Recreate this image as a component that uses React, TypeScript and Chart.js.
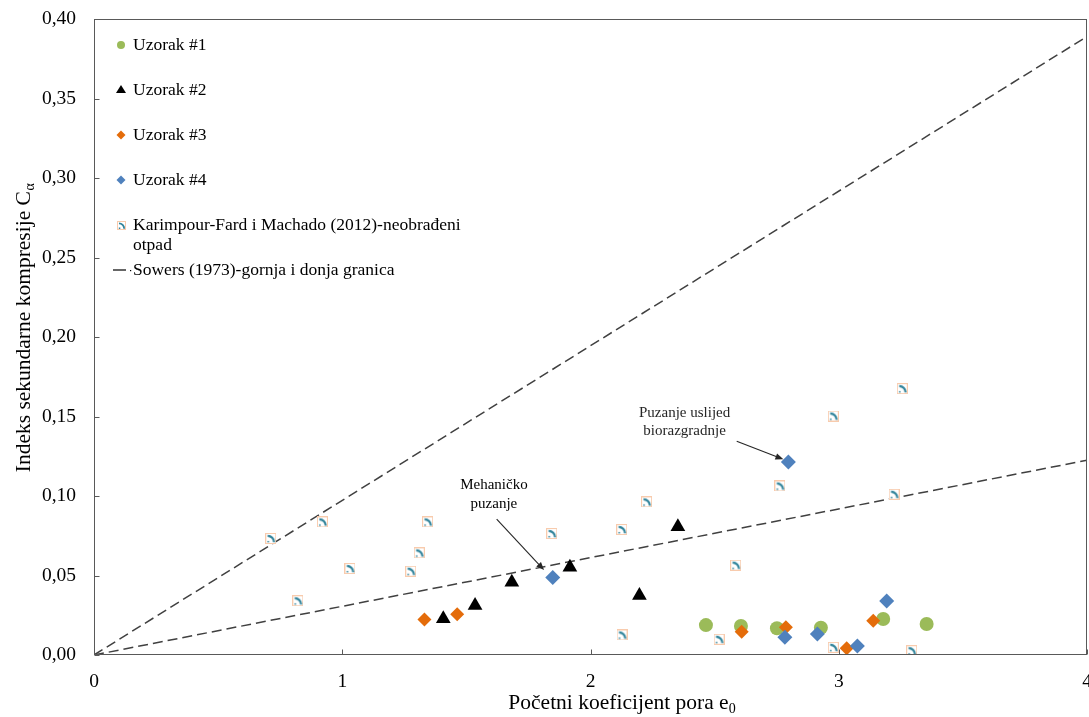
import React, { useEffect, useRef } from "react";
import { Chart, registerables } from "chart.js";
Chart.register(...registerables);

const FONT = "'Liberation Serif', 'Times New Roman', Times, serif";

// ---- data ----
const xTickValues = [0, 1, 2, 3, 4];
const yTickValues = [0, 0.05, 0.1, 0.15, 0.2, 0.25, 0.3, 0.35, 0.4];

const uzorak1X = [2.465, 2.606, 2.751, 2.928, 3.179, 3.354];
const uzorak1Y = [0.0188, 0.0182, 0.0168, 0.0171, 0.0226, 0.0195];

const uzorak2X = [1.407, 1.535, 1.683, 1.917, 2.197, 2.352];
const uzorak2Y = [0.0228, 0.0312, 0.0457, 0.0552, 0.0374, 0.0807];

const uzorak3X = [1.331, 1.463, 2.609, 2.787, 3.032, 3.139];
const uzorak3Y = [0.0224, 0.0257, 0.0146, 0.0174, 0.0042, 0.0215];

const uzorak4X = [1.848, 2.797, 3.193, 2.783, 2.914, 3.075];
const uzorak4Y = [0.0488, 0.1214, 0.0339, 0.0111, 0.0132, 0.0057];

const karimpourX = [0.712, 0.821, 0.92, 1.031, 1.276, 1.31, 1.344, 1.844, 2.126, 2.127, 2.226, 2.518, 2.585, 2.763, 2.978, 2.978, 3.223, 3.256, 3.294];
const karimpourY = [0.0733, 0.0341, 0.0837, 0.0544, 0.0527, 0.0642, 0.0837, 0.0764, 0.0789, 0.0126, 0.0963, 0.0099, 0.0565, 0.1063, 0.1503, 0.0048, 0.1011, 0.1675, 0.0027];

const sowersUpperX = [0, 4];
const sowersUpperY = [0, 0.389];
const sowersLowerX = [0, 4];
const sowersLowerY = [0, 0.1225];

const seriesLabels = [
  "Uzorak #1",
  "Uzorak #2",
  "Uzorak #3",
  "Uzorak #4",
  "Karimpour-Fard i Machado (2012)-neobrađeni otpad",
  "Sowers (1973)-gornja i donja granica",
];
const legendLines = [
  ["Uzorak #1"],
  ["Uzorak #2"],
  ["Uzorak #3"],
  ["Uzorak #4"],
  ["Karimpour-Fard i Machado (2012)-neobrađeni", "otpad"],
  ["Sowers (1973)-gornja i donja granica"],
];

const annotationTexts = [
  ["Mehaničko", "puzanje"],
  ["Puzanje uslijed", "biorazgradnje"],
];
// text centre (data coords), arrow start, arrow end
const annotationAnchors = [
  { tx: 1.611, ty: 0.101, x0: 1.622, y0: 0.0854, x1: 1.813, y1: 0.0534 },
  { tx: 2.379, ty: 0.1466, x0: 2.589, y0: 0.1344, x1: 2.777, y1: 0.1231 },
];

const xTitle = "Početni koeficijent pora e";
const xTitleSub = "0";
const yTitle = "Indeks sekundarne kompresije C";
const yTitleSub = "α";

const COLORS = {
  green: "#9bbb59",
  black: "#000000",
  orange: "#e46c0a",
  blue: "#4f81bd",
  teal: "#31849b",
  dash: "#404040",
  frame: "#595959",
};

const pts = (xs: number[], ys: number[]) => xs.map((x, i) => ({ x, y: ys[i] }));

function makeIcon(size: number) {
  const c = document.createElement("canvas");
  c.width = size;
  c.height = size;
  const g = c.getContext("2d")!;
  g.fillStyle = "#ffffff";
  g.fillRect(0, 0, size, size);
  g.strokeStyle = "#f8cbad";
  g.lineWidth = 1;
  g.strokeRect(0.5, 0.5, size - 1, size - 1);
  g.strokeStyle = COLORS.teal;
  g.lineWidth = Math.max(1.5, size * 0.2);
  g.beginPath();
  g.arc(size * 0.22, size * 0.85, size * 0.58, -Math.PI / 2, 0);
  g.stroke();
  g.fillStyle = COLORS.teal;
  g.fillRect(size * 0.2, size * 0.72, 1.5, 1.5);
  return c;
}

function drawMarker(ctx: CanvasRenderingContext2D, kind: string, x: number, y: number, r: number, color: string) {
  ctx.save();
  ctx.fillStyle = color;
  ctx.beginPath();
  if (kind === "circle") {
    ctx.arc(x, y, r, 0, Math.PI * 2);
  } else if (kind === "triangle") {
    ctx.moveTo(x, y - r);
    ctx.lineTo(x + r * 0.866 * 1.15, y + r * 0.6);
    ctx.lineTo(x - r * 0.866 * 1.15, y + r * 0.6);
    ctx.closePath();
  } else if (kind === "diamond") {
    ctx.moveTo(x, y - r);
    ctx.lineTo(x + r, y);
    ctx.lineTo(x, y + r);
    ctx.lineTo(x - r, y);
    ctx.closePath();
  }
  ctx.fill();
  ctx.restore();
}

export default function App() {
  const ref = useRef<HTMLCanvasElement>(null);

  useEffect(() => {
    const canvas = ref.current!;
    const icon = makeIcon(11);
    const iconSmall = makeIcon(9);

    const overlay = {
      id: "overlay",
      afterDraw(chart: any) {
        const ctx: CanvasRenderingContext2D = chart.ctx;
        const { left, right, top, bottom } = chart.chartArea;
        const xs = chart.scales.x;
        const ys = chart.scales.y;
        ctx.save();
        // frame
        ctx.strokeStyle = COLORS.frame;
        ctx.lineWidth = 1;
        const L = Math.round(left) + 0.5;
        const R = Math.round(right) - 0.5;
        const T = Math.round(top) + 0.5;
        const B = Math.round(bottom) - 0.5;
        ctx.strokeRect(L, T, R - L, B - T);
        // inside ticks
        ctx.beginPath();
        xTickValues.forEach((v) => {
          const px = Math.round(xs.getPixelForValue(v)) + 0.5;
          ctx.moveTo(px, B);
          ctx.lineTo(px, B - 5);
        });
        yTickValues.forEach((v) => {
          const py = Math.round(ys.getPixelForValue(v)) + 0.5;
          ctx.moveTo(L, py);
          ctx.lineTo(L + 5, py);
        });
        ctx.stroke();

        // legend
        const lx = left + 27;
        const textX = left + 39;
        const rowY = [45, 90, 135, 180, 225, 270];
        ctx.font = `17.5px ${FONT}`;
        ctx.fillStyle = "#000";
        ctx.textBaseline = "middle";
        ctx.textAlign = "left";
        legendLines.forEach((lines, i) => {
          const yy = rowY[i];
          if (i === 0) drawMarker(ctx, "circle", lx, yy, 4, COLORS.green);
          if (i === 1) drawMarker(ctx, "triangle", lx, yy, 5, COLORS.black);
          if (i === 2) drawMarker(ctx, "diamond", lx, yy, 4.5, COLORS.orange);
          if (i === 3) drawMarker(ctx, "diamond", lx, yy, 4.5, COLORS.blue);
          if (i === 4) ctx.drawImage(iconSmall, Math.round(lx - 4.5), Math.round(yy - 4.5));
          if (i === 5) {
            ctx.save();
            ctx.strokeStyle = "#000";
            ctx.lineWidth = 1.2;
            ctx.beginPath();
            ctx.moveTo(lx - 8, yy);
            ctx.lineTo(lx + 5, yy);
            ctx.stroke();
            ctx.fillStyle = "#000";
            ctx.fillRect(lx + 9, yy, 1.2, 1.2);
            ctx.restore();
          }
          lines.forEach((t, k) => ctx.fillText(t, textX, yy + k * 20));
        });

        // annotations
        ctx.font = `15px ${FONT}`;
        ctx.textAlign = "center";
        ctx.textBaseline = "middle";
        annotationAnchors.forEach((a, i) => {
          const cx = xs.getPixelForValue(a.tx);
          const cy = ys.getPixelForValue(a.ty);
          const lines = annotationTexts[i];
          lines.forEach((t, k) => ctx.fillText(t, cx, cy + (k - (lines.length - 1) / 2) * 18.5));
          const x0 = xs.getPixelForValue(a.x0);
          const y0 = ys.getPixelForValue(a.y0);
          const x1 = xs.getPixelForValue(a.x1);
          const y1 = ys.getPixelForValue(a.y1);
          const ang = Math.atan2(y1 - y0, x1 - x0);
          const hl = 8;
          const hw = 3.2;
          ctx.strokeStyle = "#262626";
          ctx.lineWidth = 1.1;
          ctx.beginPath();
          ctx.moveTo(x0, y0);
          ctx.lineTo(x1 - Math.cos(ang) * hl * 0.8, y1 - Math.sin(ang) * hl * 0.8);
          ctx.stroke();
          ctx.fillStyle = "#262626";
          ctx.beginPath();
          ctx.moveTo(x1, y1);
          ctx.lineTo(x1 - Math.cos(ang) * hl - Math.sin(ang) * hw, y1 - Math.sin(ang) * hl + Math.cos(ang) * hw);
          ctx.lineTo(x1 - Math.cos(ang) * hl + Math.sin(ang) * hw, y1 - Math.sin(ang) * hl - Math.cos(ang) * hw);
          ctx.closePath();
          ctx.fill();
        });

        // axis titles
        ctx.fillStyle = "#000";
        ctx.textAlign = "left";
        ctx.textBaseline = "alphabetic";
        const mainFont = `21.5px ${FONT}`;
        const subFont = `14px ${FONT}`;
        // x title
        ctx.font = mainFont;
        const wMain = ctx.measureText(xTitle).width;
        ctx.font = subFont;
        const wSub = ctx.measureText(xTitleSub).width;
        const xStart = 622 - (wMain + wSub) / 2;
        ctx.font = mainFont;
        ctx.fillText(xTitle, xStart, 709);
        ctx.font = subFont;
        ctx.fillText(xTitleSub, xStart + wMain, 713);
        // y title
        ctx.save();
        ctx.translate(30, 328);
        ctx.rotate(-Math.PI / 2);
        ctx.font = mainFont;
        const wyMain = ctx.measureText(yTitle).width;
        ctx.font = subFont;
        const wySub = ctx.measureText(yTitleSub).width;
        const ys0 = -(wyMain + wySub) / 2;
        ctx.font = mainFont;
        ctx.fillText(yTitle, ys0, 0);
        ctx.font = subFont;
        ctx.fillText(yTitleSub, ys0 + wyMain + 0.5, 4);
        ctx.restore();

        ctx.restore();
      },
    };

    const chart = new Chart(canvas, {
      type: "scatter",
      data: {
        datasets: [
          {
            label: seriesLabels[0],
            data: pts(uzorak1X, uzorak1Y),
            pointStyle: "circle",
            pointRadius: 7,
            backgroundColor: COLORS.green,
            borderColor: COLORS.green,
            borderWidth: 0,
            order: 3,
          },
          {
            label: seriesLabels[1],
            data: pts(uzorak2X, uzorak2Y),
            pointStyle: "triangle",
            pointRadius: 8.5,
            backgroundColor: COLORS.black,
            borderColor: COLORS.black,
            borderWidth: 0,
            order: 2,
          },
          {
            label: seriesLabels[2],
            data: pts(uzorak3X, uzorak3Y),
            pointStyle: "rectRot",
            pointRadius: 7,
            backgroundColor: COLORS.orange,
            borderColor: COLORS.orange,
            borderWidth: 0,
            order: 1,
          },
          {
            label: seriesLabels[3],
            data: pts(uzorak4X, uzorak4Y),
            pointStyle: "rectRot",
            pointRadius: 7.5,
            backgroundColor: COLORS.blue,
            borderColor: COLORS.blue,
            borderWidth: 0,
            order: 0,
          },
          {
            label: seriesLabels[4],
            data: pts(karimpourX, karimpourY),
            pointStyle: icon as any,
            pointRadius: 6,
            order: 5,
          },
          {
            label: seriesLabels[5],
            data: pts(sowersUpperX, sowersUpperY),
            showLine: true,
            pointRadius: 0,
            borderColor: COLORS.dash,
            borderWidth: 1.5,
            borderDash: [10, 5],
            order: 6,
          },
          {
            label: seriesLabels[5] + " (donja)",
            data: pts(sowersLowerX, sowersLowerY),
            showLine: true,
            pointRadius: 0,
            borderColor: COLORS.dash,
            borderWidth: 1.5,
            borderDash: [10, 5],
            order: 7,
          },
        ],
      },
      options: {
        responsive: false,
        animation: false,
        devicePixelRatio: 1,
        layout: { autoPadding: false, padding: { top: 19, right: 2, left: 0, bottom: 0 } },
        plugins: {
          legend: { display: false },
          tooltip: { enabled: false },
        },
        scales: {
          x: {
            type: "linear",
            min: 0,
            max: 4,
            afterFit: (s: any) => {
              s.height = 62;
              s.paddingLeft = 0;
              s.paddingRight = 0;
              s.paddingTop = 0;
              s.paddingBottom = 0;
            },
            afterBuildTicks: (s: any) => {
              s.ticks = xTickValues.map((v) => ({ value: v }));
            },
            grid: { display: false, drawTicks: false },
            border: { display: false },
            ticks: {
              padding: 15,
              color: "#000",
              font: { family: FONT, size: 19.5 },
              callback: (v: any) => String(v),
            },
          },
          y: {
            type: "linear",
            min: 0,
            max: 0.4,
            afterFit: (s: any) => {
              s.width = 94;
              s.paddingLeft = 0;
              s.paddingRight = 0;
              s.paddingTop = 0;
              s.paddingBottom = 0;
            },
            afterBuildTicks: (s: any) => {
              s.ticks = yTickValues.map((v) => ({ value: v }));
            },
            grid: { display: false, drawTicks: false },
            border: { display: false },
            ticks: {
              padding: 18,
              color: "#000",
              font: { family: FONT, size: 19.5 },
              callback: (v: any) => Number(v).toFixed(2).replace(".", ","),
            },
          },
        },
      },
      plugins: [overlay],
    } as any);

    return () => chart.destroy();
  }, []);

  return (
    <div style={{ position: "absolute", left: 0, top: 0, width: 1089, height: 717, background: "#ffffff" }}>
      <canvas ref={ref} width={1089} height={717} style={{ display: "block" }} />
    </div>
  );
}
